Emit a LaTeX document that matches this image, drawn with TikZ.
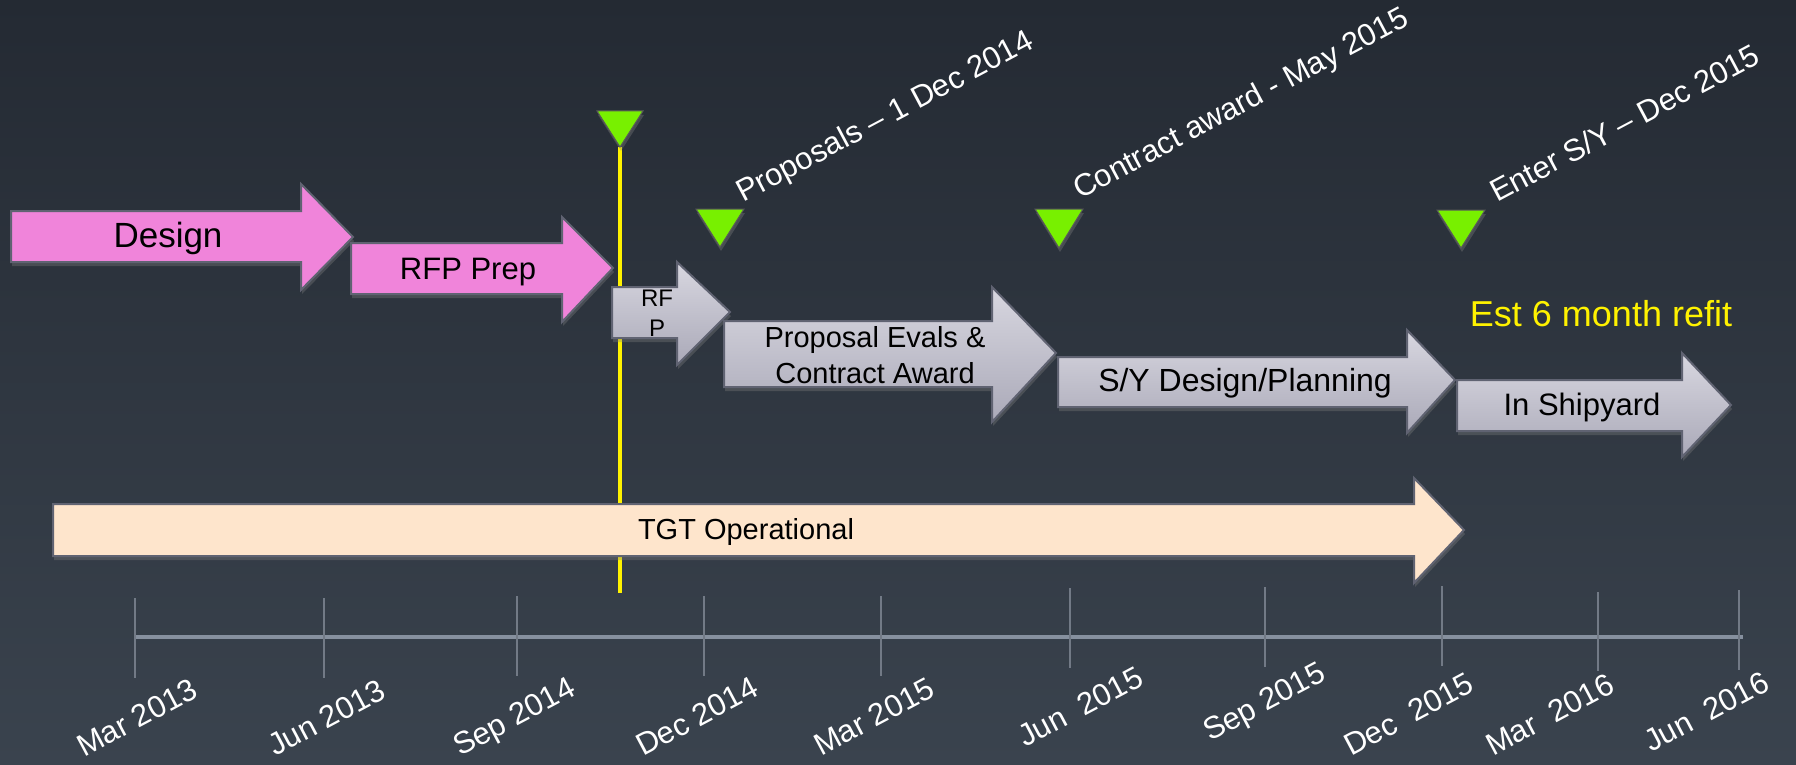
\documentclass[tikz,border=0pt]{standalone}
\usepackage{fontspec}
\setmainfont{Liberation Sans}
\usetikzlibrary{shadows}
\definecolor{bgtop}{RGB}{36,42,51}
\definecolor{bgbot}{RGB}{58,67,78}
\definecolor{designpink}{RGB}{240,132,218}
\definecolor{arrowedge}{RGB}{96,99,114}
\definecolor{greytop}{RGB}{216,215,224}
\definecolor{greybot}{RGB}{170,169,184}
\definecolor{tgtpeach}{RGB}{254,229,204}
\definecolor{milegreen}{RGB}{120,240,0}
\definecolor{axisgrey}{RGB}{134,144,158}
\tikzset{
	softshadow/.style={drop shadow={opacity=0.35, shadow xshift=1pt, shadow yshift=-4pt}},
	pinkarrow/.style={softshadow, fill=designpink, draw=arrowedge, line width=2pt},
	greyarrow/.style={softshadow, top color=greytop, bottom color=greybot, draw=arrowedge, line width=2pt},
	peacharrow/.style={softshadow, fill=tgtpeach, draw=arrowedge, line width=2pt},
	milestone/.style={softshadow, fill=milegreen, draw=gray!70!black, line width=1pt},
	boxtext/.style={black, inner sep=0pt, align=center},
	rotlbl/.style={white, inner sep=0pt, anchor=base west, rotate=28, font=\fontsize{31}{37}\selectfont},
}
\begin{document}
\begin{tikzpicture}[x=1pt, y=-1pt]
	% background
	\shade[top color=bgtop, bottom color=bgbot] (0,0) rectangle (1796,765);
	\useasboundingbox (0,0) rectangle (1796,765);

	% today line
	\draw[yellow, line width=4pt] (620,147) -- (620,593);

	% pink phases
	\filldraw[pinkarrow] (11,211) -- (301,211) -- (301,184) -- (353,237) -- (301,290) -- (301,262) -- (11,262) -- cycle;
	\node[boxtext, font=\fontsize{35}{42}\selectfont] (design) at (168,238) {Design};
	\filldraw[pinkarrow] (351,243) -- (562,243) -- (562,217) -- (613,268) -- (562,322) -- (562,294) -- (351,294) -- cycle;
	\node[boxtext, font=\fontsize{31}{37}\selectfont] (rfpprep) at (468,272) {RFP Prep};

	% grey phases
	\filldraw[greyarrow] (612,287) -- (677,287) -- (677,262) -- (730,312) -- (677,365) -- (677,338) -- (612,338) -- cycle;
	\node[boxtext, font=\fontsize{24}{30}\selectfont] (rfp) at (657,313) {RF\\P};
	\filldraw[greyarrow] (724,321) -- (992,321) -- (992,287) -- (1056,353) -- (992,422) -- (992,387) -- (724,387) -- cycle;
	\node[boxtext, font=\fontsize{29}{36}\selectfont] (evals) at (875,355) {Proposal Evals \&\\Contract Award};
	\filldraw[greyarrow] (1058,357) -- (1407,357) -- (1407,330) -- (1455,380) -- (1407,433) -- (1407,407) -- (1058,407) -- cycle;
	\node[boxtext, font=\fontsize{32}{38}\selectfont] (sydesign) at (1245,383) {S/Y Design/Planning};
	\filldraw[greyarrow] (1457,380) -- (1682,380) -- (1682,353) -- (1731,405) -- (1682,457) -- (1682,431) -- (1457,431) -- cycle;
	\node[boxtext, font=\fontsize{31}{37}\selectfont] (shipyard) at (1582,407) {In Shipyard};
	\node[yellow, inner sep=0pt, font=\fontsize{36}{43}\selectfont] (refit) at (1601,314) {Est 6 month refit};

	% operational
	\filldraw[peacharrow] (53,504) -- (1414,504) -- (1414,478) -- (1464,530) -- (1414,583) -- (1414,556) -- (53,556) -- cycle;
	\node[boxtext, font=\fontsize{29}{36}\selectfont] (tgt) at (746,532) {TGT Operational};

	% milestones
	\filldraw[milestone] (597,111) -- (643,111) -- (620,147) -- cycle;
	\filldraw[milestone] (696,209) -- (744,209) -- (720,247) -- cycle;
	\filldraw[milestone] (1035,209) -- (1083,209) -- (1059,248) -- cycle;
	\filldraw[milestone] (1437,210) -- (1485,210) -- (1461,248) -- cycle;
	\node[rotlbl] (proposals) at (743,203) {Proposals – 1 Dec 2014};
	\node[rotlbl] (award) at (1080,200) {Contract award - May 2015};
	\node[rotlbl] (entersy) at (1497,203) {Enter S/Y – Dec 2015};

	% time axis
	\draw[axisgrey, line width=4pt] (135,637) -- (1743,637);
	\foreach \x/\ya/\yb in {135/598/678, 324/598/678, 517/596/676, 704/596/676, 881/596/676, 1070/588/668, 1265/587/667, 1442/586/666, 1598/592/671, 1739/590/670}
		\draw[axisgrey!85!black, line width=2pt] (\x,\ya) -- (\x,\yb);
	\node[rotlbl] (mar13) at (84,758) {Mar 2013};
	\node[rotlbl] (jun13) at (275,757) {Jun 2013};
	\node[rotlbl] (sep14) at (460,757) {Sep 2014};
	\node[rotlbl] (dec14) at (643,757) {Dec 2014};
	\node[rotlbl] (mar15) at (821,757) {Mar 2015};
	\node[rotlbl] (jun15) at (1025,748) {Jun~~2015};
	\node[rotlbl] (sep15) at (1210,742) {Sep 2015};
	\node[rotlbl] (dec15) at (1351,757) {Dec~~2015};
	\node[rotlbl] (mar16) at (1493,757) {Mar~~2016};
	\node[rotlbl] (jun16) at (1651,753) {Jun~~2016};
\end{tikzpicture}
\end{document}
